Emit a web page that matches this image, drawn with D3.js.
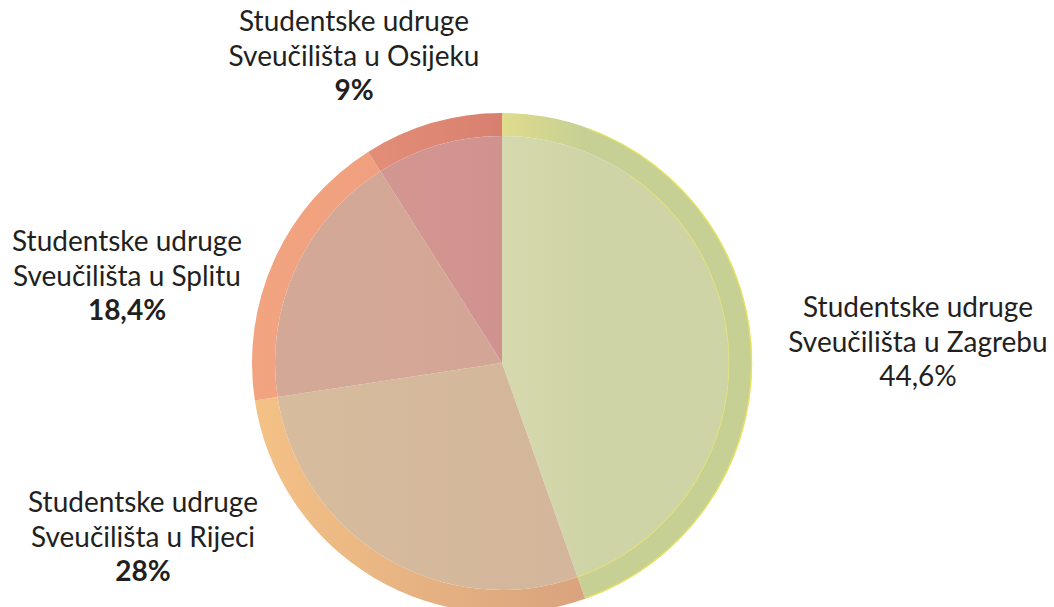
<!DOCTYPE html>
<html><head><meta charset="utf-8">
<script src="https://cdn.jsdelivr.net/npm/d3@7"></script>
<style>body{margin:0;background:#fff}svg{display:block}</style>
</head><body>
<svg id="c" width="1054" height="607"></svg>
<script>
const categories = ["Studentske udruge Sveučilišta u Zagrebu","Studentske udruge Sveučilišta u Rijeci","Studentske udruge Sveučilišta u Splitu","Studentske udruge Sveučilišta u Osijeku"];
const values = [44.6, 28, 18.4, 9];
const labelLine1 = ["Studentske udruge","Studentske udruge","Studentske udruge","Studentske udruge"];
const labelLine2 = ["Sveučilišta u Zagrebu","Sveučilišta u Rijeci","Sveučilišta u Splitu","Sveučilišta u Osijeku"];
const valueLabels = ["44,6%","28%","18,4%","9%"];
const valueBold = [false, true, true, true];

const ringColors = [["#dfdc8c","#c6cf94"],["#f4c186","#d9a37d"],["#f2a37f","#ee9d7e"],["#e38e79","#d8806f"]];
const innerColors = [["#d6d9ad","#cfd4a7"],["#d7bc9d","#d3b69b"],["#d4a997","#d3a596"],["#d39791","#d0928f"]];
const labelPos = [[918,317],[143,512],[127,251],[354,31]];

const svg = d3.select("#c");
const cx = 502, cy = 363, R = 250, r = 227;
const pie = d3.pie().sort(null).value(d=>d)(values);
const defs = svg.append("defs");
function grad(id, cols, a){
  const xs = [a.startAngle,a.endAngle].map(t=>R*Math.sin(t));
  const x0 = Math.min(0, ...xs), x1 = Math.max(0, ...xs);
  const lg = defs.append("linearGradient").attr("id",id).attr("gradientUnits","userSpaceOnUse")
    .attr("x1",x0).attr("x2",x1).attr("y1",0).attr("y2",0);
  lg.append("stop").attr("offset",0).attr("stop-color",cols[0]);
  lg.append("stop").attr("offset",1).attr("stop-color",cols[1]);
}
pie.forEach((a,i)=>{grad("rg"+i, ringColors[i], a); grad("ig"+i, innerColors[i], a);});
const gg = svg.append("g").attr("transform",`translate(${cx},${cy})`);
const ringArc = d3.arc().innerRadius(r).outerRadius(R);
const innerArc = d3.arc().innerRadius(0).outerRadius(r);
gg.selectAll("path.ring").data(pie).join("path").attr("class","ring")
  .attr("d",ringArc).attr("fill",(d,i)=>`url(#rg${i})`);
gg.selectAll("path.inner").data(pie).join("path").attr("class","inner")
  .attr("d",innerArc).attr("fill",(d,i)=>`url(#ig${i})`);
// thin yellow edges on Zagreb slice
const z = pie[0];
gg.append("path")
  .attr("d",d3.arc().innerRadius(R-1.2).outerRadius(R+0.3)({startAngle:z.startAngle+0.35,endAngle:z.endAngle}))
  .attr("fill","#e8e35a").attr("opacity",0.9);
gg.append("path")
  .attr("d",d3.arc().innerRadius(r-0.6).outerRadius(r+0.6)({startAngle:z.startAngle+0.6,endAngle:z.endAngle}))
  .attr("fill","#e8e35a").attr("opacity",0.6);

// labels
const ff = "Lato, 'Open Sans', sans-serif";
const targetW = 230;
const probe = svg.append("text").attr("font-family",ff).attr("font-size",100).text("Studentske udruge");
const fs = targetW / probe.node().getComputedTextLength() * 100;
probe.remove();
const lh = 34.5;
categories.forEach((c,i)=>{
  const [x,y] = labelPos[i];
  const t = svg.append("text").attr("font-family",ff).attr("font-size",fs)
    .attr("fill","#231f20").attr("text-anchor","middle");
  t.append("tspan").attr("x",x).attr("y",y).text(labelLine1[i]);
  t.append("tspan").attr("x",x).attr("y",y+lh).text(labelLine2[i]);
  t.append("tspan").attr("x",x).attr("y",y+2*lh).attr("font-weight",valueBold[i]?"bold":"normal").text(valueLabels[i]);
});
</script>
</body></html>
